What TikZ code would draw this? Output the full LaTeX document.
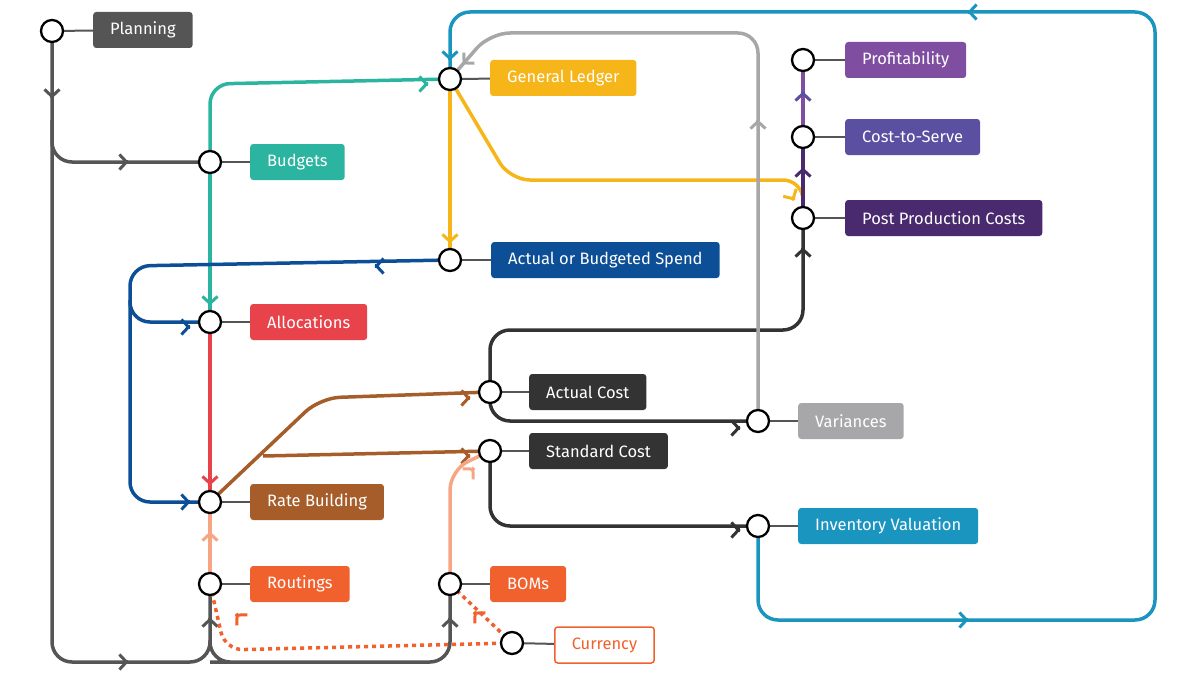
\documentclass[tikz,border=0pt]{standalone}
\usepackage{fontspec}
\setmainfont{Fira Sans}
\usetikzlibrary{arrows.meta}
\pgfdeclarelayer{bg}\pgfsetlayers{bg,main}
\definecolor{cdk}{HTML}{555555}
\definecolor{cteal}{HTML}{2BB5A0}
\definecolor{cgl}{HTML}{F6B519}
\definecolor{cbl}{HTML}{0D4F97}
\definecolor{cred}{HTML}{E8434A}
\definecolor{cblk}{HTML}{333333}
\definecolor{cgr}{HTML}{A7A7A9}
\definecolor{cbr}{HTML}{A65D2A}
\definecolor{clb}{HTML}{1A95C0}
\definecolor{cor}{HTML}{F0612D}
\definecolor{cpe}{HTML}{F6A685}
\definecolor{cp1}{HTML}{7F4EA0}
\definecolor{cp2}{HTML}{5A4FA0}
\definecolor{cp3}{HTML}{4A2A6E}
\tikzset{
 st/.style={circle,draw=black,line width=2.3pt,fill=white,minimum size=22pt,inner sep=0pt},
 lb/.style={anchor=west,rounded corners=3pt,text=white,font=\fontsize{16.5}{16.5}\selectfont,minimum height=36pt,inner xsep=17pt,fill=#1},
 ln/.style={line width=3.5pt,rounded corners=20pt,draw=#1},
 tip/.style={line width=3.5pt,draw=#1,-{Straight Barb[length=7pt,width=15pt,line width=3pt]}},
 lk/.style={line width=2pt,draw=cdk}
}
\newcommand{\ar}[3]{\draw[tip=#1] #2 -- ++(-#3:0.5);}
\begin{document}
\begin{tikzpicture}[x=1pt,y=-1pt]
\useasboundingbox (0,0) rectangle (1200,677);
\node[st] (pl) at (52,31) {}; \node[lb=cdk] (plL) at (93,30) {Planning};
\node[st] (bu) at (210,162) {}; \node[lb=cteal] (buL) at (250,162) {Budgets};
\node[st] (gl) at (450,79) {}; \node[lb=cgl] (glL) at (490,78) {General Ledger};
\node[st] (as) at (450,260) {}; \node[lb=cbl] (asL) at (491,260) {Actual or Budgeted Spend};
\node[st] (al) at (210,322) {}; \node[lb=cred] (alL) at (250,322) {Allocations};
\node[st] (ac) at (490,392) {}; \node[lb=cblk] (acL) at (529,392) {Actual Cost};
\node[st] (sc) at (490,451) {}; \node[lb=cblk] (scL) at (529,451) {Standard Cost};
\node[st] (va) at (758,421) {}; \node[lb=cgr] (vaL) at (798,421) {Variances};
\node[st] (rb) at (210,502) {}; \node[lb=cbr] (rbL) at (250,502) {Rate Building};
\node[st] (iv) at (758,526) {}; \node[lb=clb] (ivL) at (798,526) {Inventory Valuation};
\node[st] (ro) at (210,584) {}; \node[lb=cor] (roL) at (250,584) {Routings};
\node[st] (bo) at (450,584) {}; \node[lb=cor] (boL) at (490,584) {BOMs};
\node[st] (cu) at (512,643) {}; \node[lb=white,draw=cor,line width=1.5pt,text=cor] (cuL) at (554,645) {Currency};
\node[st] (pr) at (803,60) {}; \node[lb=cp1] (prL) at (845,60) {Profitability};
\node[st] (cs) at (803,137) {}; \node[lb=cp2] (csL) at (845,137) {Cost-to-Serve};
\node[st] (pp) at (803,218) {}; \node[lb=cp3] (ppL) at (845,218) {Post Production Costs};
\begin{pgfonlayer}{bg}
\foreach \a/\b in {pl/plL,bu/buL,gl/glL,as/asL,al/alL,ac/acL,sc/scL,va/vaL,rb/rbL,iv/ivL,ro/roL,bo/boL,cu/cuL,pr/prL,cs/csL,pp/ppL}
  \draw[lk] (\a) -- (\b);
% planning
\draw[ln=cdk] (pl.center) -- (52,662) -- (210,662) -- (ro.center);
\draw[ln=cdk] (210,640) |- (230,662) -- (450,662) -- (bo.center);
\draw[ln=cdk] (52,120) |- (bu.center);
\ar{cdk}{(52,98)}{-90} \ar{cdk}{(128,162)}{0} \ar{cdk}{(128,662)}{0}
\ar{cdk}{(210,618)}{90} \ar{cdk}{(450,618)}{90}
% teal
\draw[ln=cteal] (bu.center) -- (210,84) -- (gl.center);
\draw[ln=cteal] (bu.center) -- (al.center);
\ar{cteal}{(428,84)}{0} \ar{cteal}{(210,305)}{-90}
% yellow
\draw[ln=cgl] (gl.center) -- (as.center);
\draw[ln=cgl] (gl.center) -- (510,180) -- (803,180) -- (pp.center);
\ar{cgl}{(450,243)}{-90} \ar{cgl}{(794,200)}{-60}
% blue
\draw[ln=cbl] (as.center) -- (130,266) -- (130,502) -- (rb.center);
\draw[ln=cbl] (130,300) |- (al.center);
\ar{cbl}{(375,266)}{180} \ar{cbl}{(190,327)}{0} \ar{cbl}{(190,502)}{0}
% red
\draw[ln=cred] (al.center) -- (rb.center); \ar{cred}{(210,485)}{-90}
% brown
\draw[ln=cbr] (rb.center) -- (320,398) -- (ac.center);
\draw[ln=cbr] (263,456) -- (sc.center);
\ar{cbr}{(470,398)}{0} \ar{cbr}{(470,456)}{0}
% black
\draw[ln=cblk] (ac.center) -- (490,330) -- (803,330) -- (pp.center);
\draw[ln=cblk] (ac.center) |- (va.center);
\draw[ln=cblk] (sc.center) |- (iv.center);
\ar{cblk}{(803,248)}{90} \ar{cblk}{(740,428)}{0} \ar{cblk}{(740,530)}{0}
% gray
\draw[ln=cgr] (va.center) -- (758,33) -- (490,33) -- (gl.center);
\ar{cgr}{(758,120)}{90} \ar{cgr}{(463,64)}{-135}
% light blue
\draw[ln=clb] (iv.center) -- (758,620) -- (1155,620) -- (1155,12) -- (450,12) -- (gl.center);
\ar{clb}{(968,620)}{0} \ar{clb}{(968,12)}{180} \ar{clb}{(450,60)}{-90}
% peach
\draw[ln=cpe] (ro.center) -- (rb.center);
\draw[ln=cpe] (bo.center) -- (450,470) -- (sc.center);
\ar{cpe}{(210,532)}{90} \ar{cpe}{(474,468)}{45}
% dotted orange
\draw[line width=3.5pt,draw=cor,dash pattern=on 4pt off 4pt,rounded corners=18pt] (cu.center) -- (225,650) -- (ro.center);
\draw[line width=3.5pt,draw=cor,dash pattern=on 4pt off 4pt] (cu.center) -- (bo.center);
\ar{cor}{(236,614)}{135} \ar{cor}{(474,612)}{135}
% purple
\draw[ln=cp3] (pp.center) -- (cs.center); \draw[ln=cp1] (cs.center) -- (pr.center);
\ar{cp3}{(803,168)}{90} \ar{cp2}{(803,92)}{90}
\end{pgfonlayer}
\end{tikzpicture}
\end{document}
